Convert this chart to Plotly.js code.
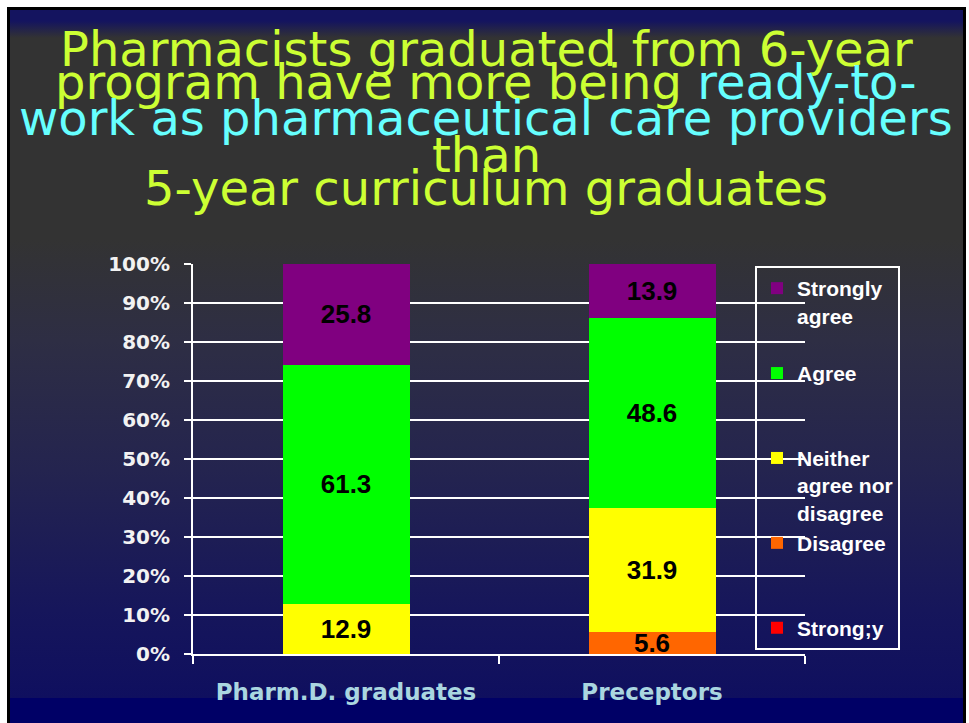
<!DOCTYPE html>
<html>
<head>
<meta charset="utf-8">
<script src="https://cdn.plot.ly/plotly-3.0.1.min.js"></script>
<style>
  html, body { margin: 0; padding: 0; background: #ffffff; width: 969px; height: 723px; overflow: hidden; }
  #slide {
    position: absolute; left: 7px; top: 7px; width: 953px; height: 716px;
    border-left: 3px solid #000; border-right: 3px solid #000; border-top: 3px solid #000;
    background: linear-gradient(to bottom,
      #14145f 0px, #14145f 11px, #333333 28px, #333333 230px,
      #2e2e44 330px, #24244f 460px, #16165b 600px, #0f0f5f 688px,
      #000066 688px, #000066 100%);
  }
  #chart { position: absolute; left: 0; top: 0; width: 969px; height: 723px; }
</style>
</head>
<body>
<div id="slide"></div>
<div id="chart"></div>
<script>
// ---- data ----
const categories = ["Pharm.D. graduates", "Preceptors"];
const stronglyDisagree = [0, 0];
const disagree = [0, 5.6];
const neither = [12.9, 31.9];
const agree = [61.3, 48.6];
const stronglyAgree = [25.8, 13.9];
const yTickVals = [0, 10, 20, 30, 40, 50, 60, 70, 80, 90, 100];
const yTickText = ["0%", "10%", "20%", "30%", "40%", "50%", "60%", "70%", "80%", "90%", "100%"];

const seriesNames = ["Strong;y", "Disagree<br> <br> ", "Neither<br>agree nor<br>disagree", "Agree<br> <br> ", "Strongly<br>agree<br> "];
const seriesValues = [stronglyDisagree, disagree, neither, agree, stronglyAgree];
const seriesColors = ["#ff0000", "#ff6600", "#ffff00", "#00ff00", "#800080"];
const legendRanks = [5, 4, 3, 2, 1];

// ---- layout helpers (pixel -> paper) ----
const L = 193, R = 805, T = 264, B = 654;
const px = v => (v - L) / (R - L);
const py = v => (B - v) / (B - T);

const traces = seriesValues.map((vals, i) => ({
  type: "bar",
  x: categories,
  y: vals,
  name: seriesNames[i],
  legendgroup: "g" + i,
  legendrank: legendRanks[i],
  marker: { color: seriesColors[i], line: { width: 0 } },
  width: 0.415,
  text: vals.map(v => v > 0 ? v.toFixed(1) : ""),
  textposition: "inside",
  insidetextanchor: "middle",
  constraintext: "none",
  textangle: 0,
  textfont: { family: "Liberation Sans, Arial, sans-serif", size: 26, color: "#000000", weight: "bold" },
  hoverinfo: "skip"
}));

const titleFont = { family: "DejaVu Sans, sans-serif", size: 48, color: "#ccff33" };
const titleLines = [
  { t: "Pharmacists graduated from 6-year", y: 49 },
  { t: "program have more being <span style='color:#66ffff'>ready-to-</span>", y: 82 },
  { t: "<span style='color:#66ffff'>work as pharmaceutical care providers</span>", y: 118 },
  { t: "than", y: 155 },
  { t: "5-year curriculum graduates", y: 188 }
];

const annotations = titleLines.map(l => ({
  xref: "paper", yref: "paper", x: px(486), y: py(l.y),
  xanchor: "center", yanchor: "middle", showarrow: false,
  text: l.t, font: titleFont
}));

const layout = {
  width: 969, height: 723,
  margin: { l: L, r: 969 - R, t: T, b: 723 - B, pad: 0 },
  paper_bgcolor: "rgba(0,0,0,0)",
  plot_bgcolor: "rgba(0,0,0,0)",
  barmode: "stack",
  showlegend: true,
  legend: {
    x: px(755), y: py(266), xanchor: "left", yanchor: "top",
    bgcolor: "rgba(0,0,0,0)", bordercolor: "#ffffff", borderwidth: 2,
    traceorder: "grouped", tracegroupgap: 0, valign: "top",
    font: { family: "Liberation Sans, Arial, sans-serif", size: 21, color: "#ffffff", weight: "bold" }
  },
  xaxis: {
    type: "category", range: [-0.5, 1.5],
    showline: true, linecolor: "#ffffff", linewidth: 2,
    ticks: "outside", tickson: "boundaries", ticklen: 8, tickwidth: 2, tickcolor: "#ffffff",
    showgrid: false, zeroline: false,
    ticklabelstandoff: 16,
    tickfont: { family: "DejaVu Sans, sans-serif", size: 23, color: "#aad6e0", weight: "bold" },
    fixedrange: true
  },
  yaxis: {
    range: [0, 100], tickvals: yTickVals, ticktext: yTickText,
    showline: true, linecolor: "#ffffff", linewidth: 2,
    ticks: "outside", ticklen: 7, tickwidth: 2, tickcolor: "#ffffff",
    showgrid: true, gridcolor: "#ffffff", gridwidth: 2, zeroline: false,
    ticklabelstandoff: 10,
    tickfont: { family: "DejaVu Sans, sans-serif", size: 20, color: "#f2f2f2", weight: "bold" },
    fixedrange: true
  },
  annotations: annotations
};

Plotly.newPlot("chart", traces, layout, { displayModeBar: false, staticPlot: true });
</script>
</body>
</html>
